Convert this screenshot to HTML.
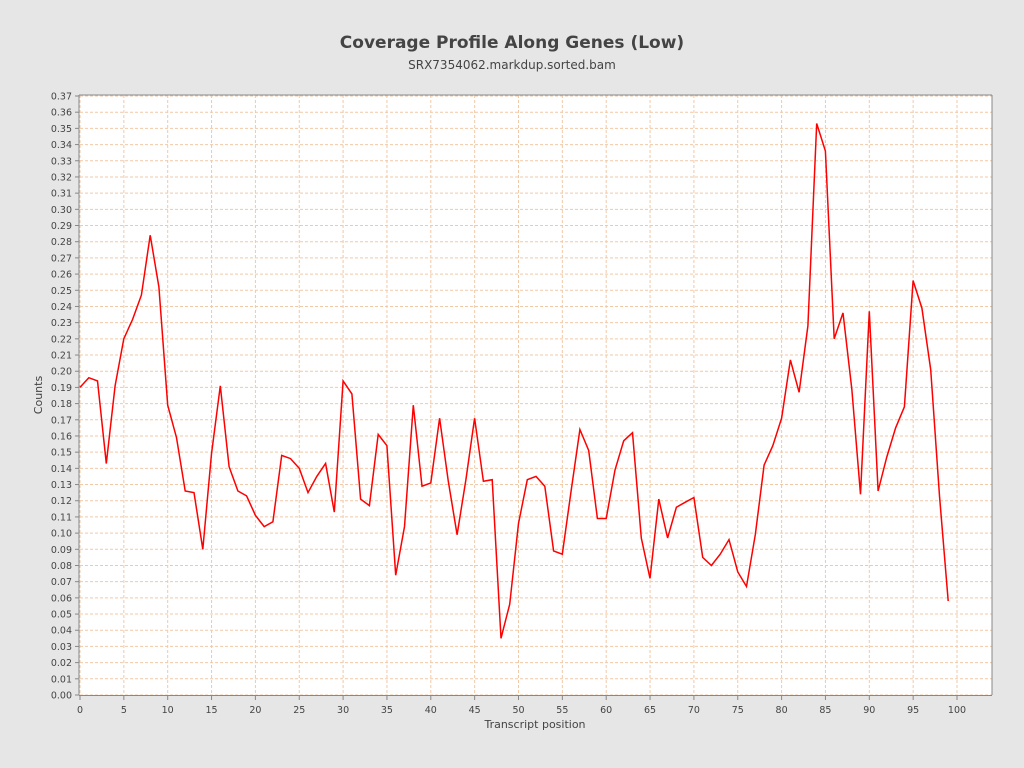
<!DOCTYPE html>
<html><head><meta charset="utf-8"><style>
body{margin:0;background:#e6e6e6;font-family:"Liberation Sans","DejaVu Sans",sans-serif}
</style></head><body>
<svg id="chart" width="1024" height="768" xmlns="http://www.w3.org/2000/svg" style="display:block">
<rect width="1024" height="768" fill="#e6e6e6"/>
<text x="512" y="48" text-anchor="middle" font-size="17" font-weight="bold" fill="#444" font-family="DejaVu Sans, sans-serif">Coverage Profile Along Genes (Low)</text>
<text x="512" y="69" text-anchor="middle" font-size="12" fill="#444" font-family="DejaVu Sans, sans-serif">SRX7354062.markdup.sorted.bam</text>
<rect x="79" y="95" width="913" height="600" fill="#fff"/>
<g id="grid"></g><g id="ticks"></g>
<path id="line" fill="none" stroke="#ff0000" stroke-width="1.5"/>
<line x1="79" y1="95" x2="79" y2="695" stroke="#888"/>
<line x1="79" y1="695.5" x2="992" y2="695.5" stroke="#888"/>
<line x1="992" y1="95" x2="992" y2="695" stroke="#888"/>
<line x1="79" y1="95" x2="992" y2="95" stroke="#888"/>
<text x="42" y="395" transform="rotate(-90 42 395)" text-anchor="middle" font-size="11" fill="#444" font-family="DejaVu Sans, sans-serif">Counts</text>
<text x="535" y="728" text-anchor="middle" font-size="11" fill="#444" font-family="DejaVu Sans, sans-serif">Transcript position</text>
</svg>
<script>
const positions=[...Array(100).keys()];
const counts=[0.190,0.196,0.194,0.143,0.191,0.220,0.232,0.247,0.284,0.252,0.179,0.159,0.126,0.125,0.090,0.149,0.191,0.141,0.126,0.123,0.111,0.104,0.107,0.148,0.146,0.140,0.125,0.135,0.143,0.113,0.194,0.186,0.121,0.117,0.161,0.154,0.074,0.104,0.179,0.129,0.131,0.171,0.132,0.099,0.133,0.171,0.132,0.133,0.035,0.056,0.106,0.133,0.135,0.129,0.089,0.087,0.126,0.164,0.151,0.109,0.109,0.139,0.157,0.162,0.097,0.072,0.121,0.097,0.116,0.119,0.122,0.085,0.080,0.087,0.096,0.076,0.067,0.099,0.142,0.154,0.171,0.207,0.187,0.228,0.353,0.336,0.220,0.236,0.189,0.124,0.237,0.126,0.147,0.165,0.178,0.256,0.239,0.201,0.123,0.058];
const xTicks=[0,5,10,15,20,25,30,35,40,45,50,55,60,65,70,75,80,85,90,95,100];
const yTicks=[...Array(38).keys()].map(i=>i/100);
const NS="http://www.w3.org/2000/svg";
const xs=v=>80+v*8.77;
const ys=v=>695-v*(599/0.37);
const grid=document.getElementById('grid'),ticks=document.getElementById('ticks');
function mk(tag,attrs,parent){const e=document.createElementNS(NS,tag);for(const k in attrs)e.setAttribute(k,attrs[k]);parent.appendChild(e);return e;}
yTicks.forEach(v=>{const y=ys(v);
 const g=mk('line',{x1:80,x2:992,y1:y,y2:y,stroke:'#f2c9a6','stroke-dasharray':'3,2','stroke-width':1},grid);
 
 
 const t=mk('line',{x1:75,x2:79,y1:y,y2:y,stroke:'#888'},ticks);
 
 
 const l=mk('text',{x:72,y:y+3.5,'text-anchor':'end','font-size':9.5,fill:'#444','font-family':'DejaVu Sans, sans-serif'},ticks);
 l.textContent=v.toFixed(2);
 
 
});
xTicks.forEach(v=>{const x=xs(v);
 const g=mk('line',{x1:x,x2:x,y1:95,y2:695,stroke:'#f2c9a6','stroke-dasharray':'3,2','stroke-width':1},grid);
 
 
 const t=mk('line',{x1:x,x2:x,y1:696,y2:700,stroke:'#888'},ticks);
 
 
 const l=mk('text',{x:x,y:713,'text-anchor':'middle','font-size':9.5,fill:'#444','font-family':'DejaVu Sans, sans-serif'},ticks);
 l.textContent=v;
 
 
});
document.getElementById('line').setAttribute('d',counts.map((c,i)=>(i?'L':'M')+xs(positions[i]).toFixed(1)+','+ys(c).toFixed(1)).join(''));
</script>
</body></html>
